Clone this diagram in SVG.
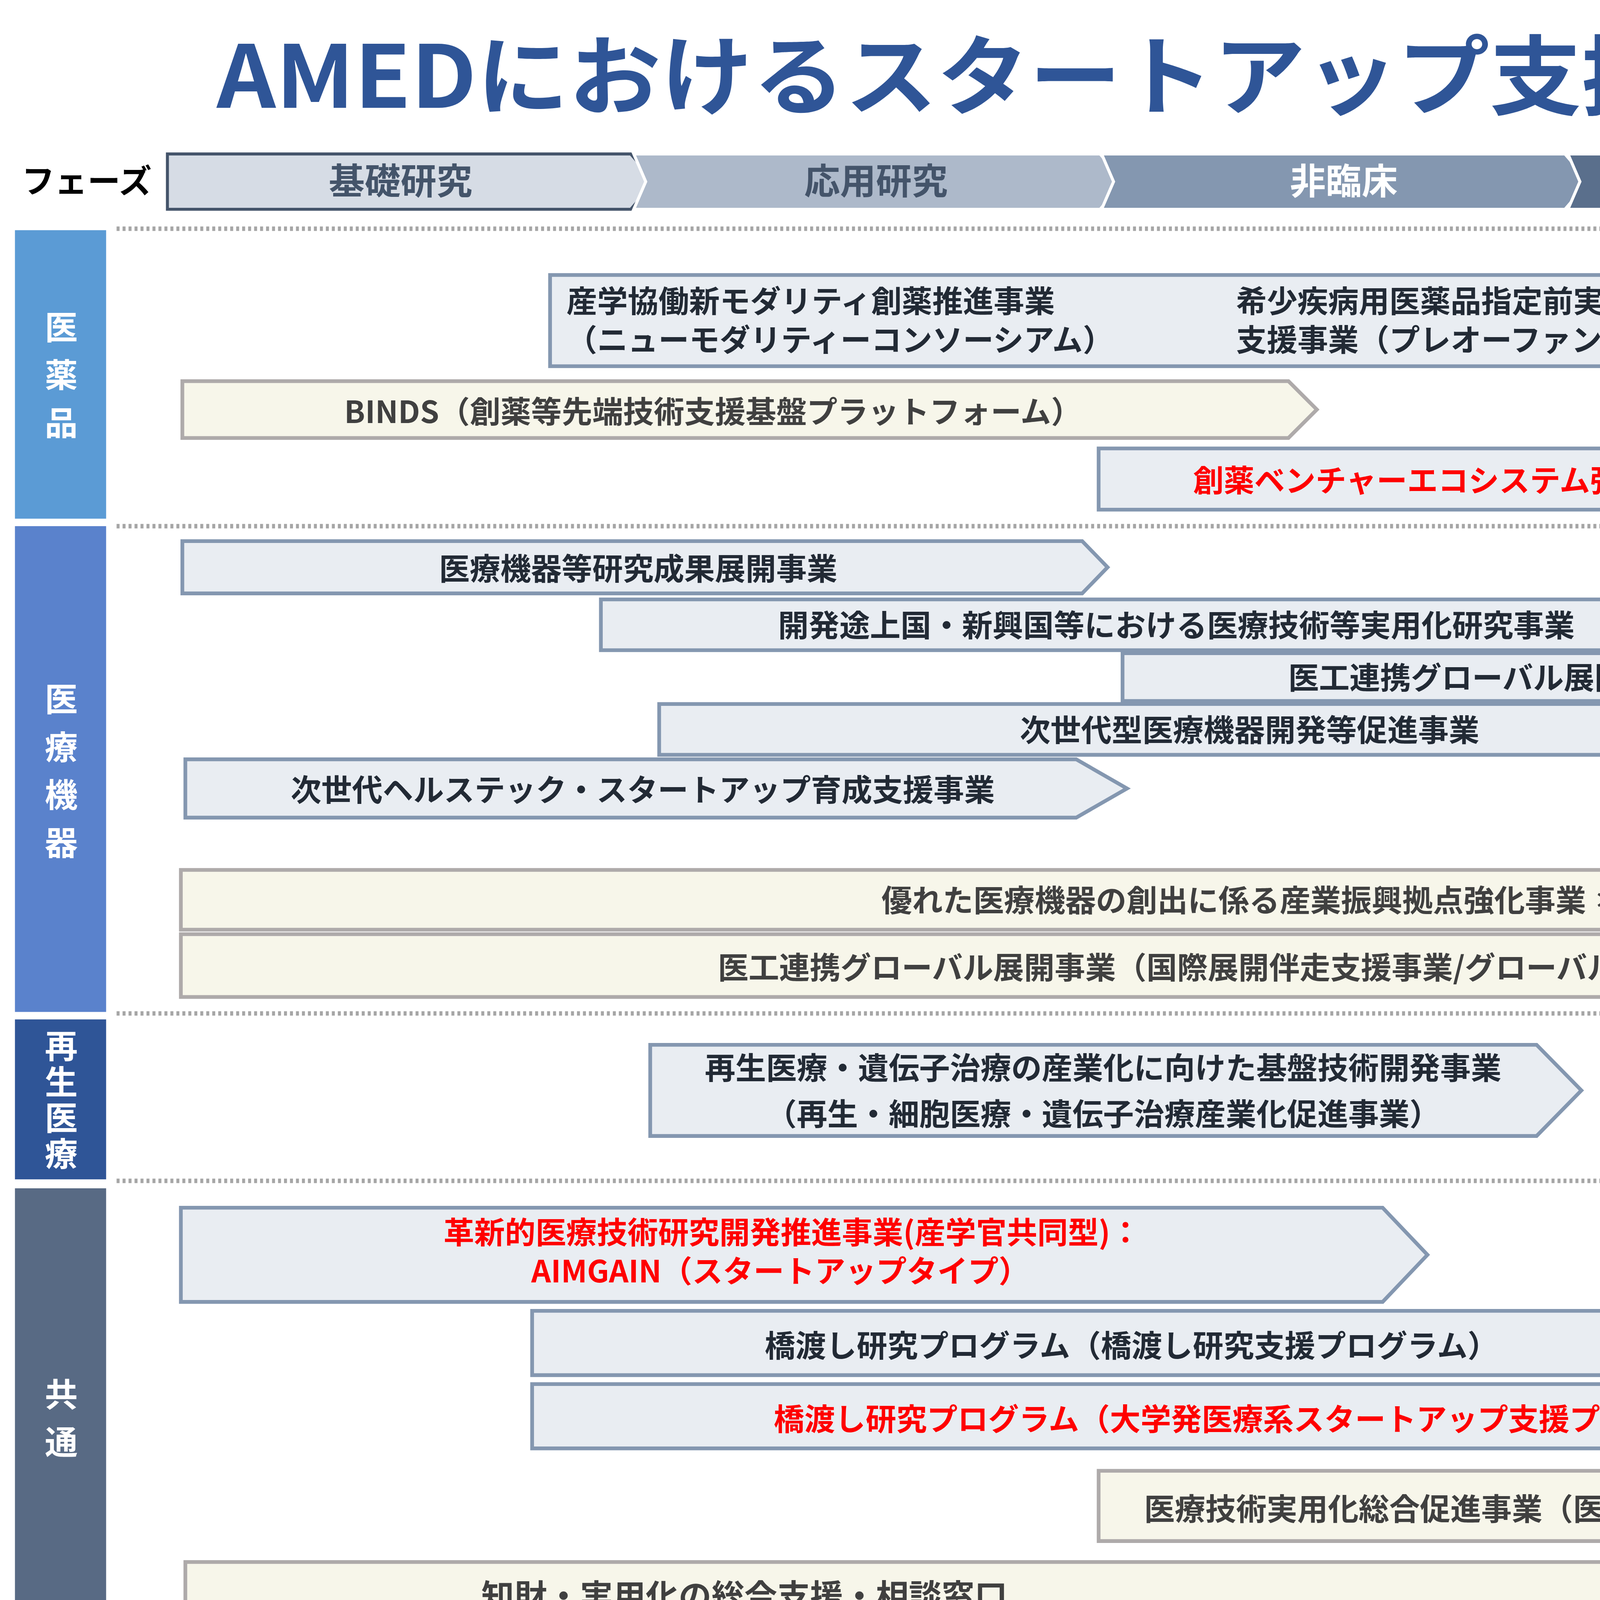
<svg xmlns="http://www.w3.org/2000/svg" width="6000" height="4500" viewBox="0 0 6000 4500">
<style>
text{font-family:"Noto Sans CJK JP","Noto Sans",sans-serif;font-weight:700}
.f{fill:#E9EDF2;stroke:#8497B0;stroke-width:2.5}
.s{fill:#F7F6EA;stroke:#AEAAAA;stroke-width:2.5}
.t{font-size:20.5px;fill:#222A35}
.g{font-size:20.5px;fill:#404040}
.r{font-size:20.5px;fill:#FF0000}
.c{text-anchor:middle}
.cat{font-size:22px;fill:#fff;text-anchor:middle}
.ph{font-size:24px;text-anchor:middle}
.sep{stroke:#A6A6A6;stroke-width:3;stroke-dasharray:2 2}
</style>
<rect width="6000" height="4500" fill="#fff"/>
<g transform="scale(3.8265)">
<g id="title">
<text x="694" y="72" font-size="58" fill="#2F5597" text-anchor="middle" textLength="1098" lengthAdjust="spacingAndGlyphs">AMEDにおけるスタートアップ支援一覧</text>
<text x="1391" y="63" font-size="20" fill="#2F5597" text-anchor="middle" style="font-weight:400">202506版</text>
</g>
<g id="phases">
<text x="58" y="129" font-size="22" fill="#000" text-anchor="middle">フェーズ</text>
<path d="M112,103H422L438,121.5L422,140H112Z" fill="#D6DCE5" stroke="#44546A" stroke-width="2"/>
<path d="M424,103H736L752,121.5L736,140H424L432,121.5Z" fill="#ADB9CA" stroke="#fff" stroke-width="2"/>
<path d="M737,103H1047L1063,121.5L1047,140H737L745,121.5Z" fill="#8497B0" stroke="#fff" stroke-width="2"/>
<path d="M1049,103H1325L1341,121.5L1325,140H1049L1057,121.5Z" fill="#5A6F8C" stroke="#fff" stroke-width="2"/>
<path d="M1325,103H1540L1558,121.5L1540,140H1325L1333,121.5Z" fill="#44546A" stroke="#fff" stroke-width="2"/>
<text x="268" y="130" class="ph" fill="#44546A">基礎研究</text>
<text x="586" y="130" class="ph" fill="#44546A">応用研究</text>
<text x="899" y="130" class="ph" fill="#fff">非臨床</text>
<text x="1194" y="130" class="ph" fill="#fff">臨床研究・治験</text>
<text x="1442" y="130" class="ph" fill="#fff">実用化</text>
</g>
<g id="separators">
<line x1="78" y1="153" x2="1556" y2="153" class="sep"/>
<line x1="78" y1="352" x2="1556" y2="352" class="sep"/>
<line x1="78" y1="678" x2="1556" y2="678" class="sep"/>
<line x1="78" y1="790" x2="1556" y2="790" class="sep"/>
<line x1="78" y1="1103" x2="1556" y2="1103" class="sep"/>
</g>
<g id="categories">
<rect x="10" y="154" width="61" height="193" fill="#5B9BD5"/>
<text class="cat"><tspan x="41" y="227">医</tspan><tspan x="41" y="259">薬</tspan><tspan x="41" y="291">品</tspan></text>
<rect x="10" y="352" width="61" height="325" fill="#5A82CC"/>
<text class="cat"><tspan x="41" y="476">医</tspan><tspan x="41" y="508">療</tspan><tspan x="41" y="540">機</tspan><tspan x="41" y="572">器</tspan></text>
<rect x="10" y="682" width="61" height="107" fill="#2F5597"/>
<text class="cat"><tspan x="41" y="708">再</tspan><tspan x="41" y="732">生</tspan><tspan x="41" y="756">医</tspan><tspan x="41" y="780">療</tspan></text>
<rect x="10" y="795" width="61" height="308" fill="#586A84"/>
<text class="cat"><tspan x="41" y="941">共</tspan><tspan x="41" y="973">通</tspan></text>
</g>
<g id="legend">
<path d="M1264,168H1282L1296,181L1282,194H1264Z" class="f"/>
<text x="1300" y="188" font-size="18" fill="#000" style="font-weight:400">：資金支援</text>
<path d="M1264,201H1282L1296,214L1282,227H1264Z" class="s"/>
<text x="1300" y="220" font-size="18" fill="#000" style="font-weight:400">：ソフト面の支援</text>
<text x="1401" y="263" font-size="17" fill="#FF0000" text-anchor="middle" style="font-weight:400">※赤字はスタートアップに特化したもの</text>
</g>
<g id="n1"><path d="M368,184H1175L1205,214.5L1175,245H368Z" class="f"/>
<text x="379" y="209" class="t">産学協働新モダリティ創薬推進事業</text><text x="379" y="235" class="t">（ニューモダリティーコンソーシアム）</text>
<text x="827" y="209" class="t">希少疾病用医薬品指定前実用化</text><text x="827" y="235" class="t">支援事業（プレオーファン）</text></g>
<g id="n2"><path d="M122,255H862L881,274L862,293H122Z" class="s"/><text x="477" y="283" class="g c">BINDS（創薬等先端技術支援基盤プラットフォーム）</text></g>
<g id="n3"><path d="M735,300H1202L1222,320.5L1202,341H735Z" class="f"/><text x="972" y="329" class="r c">創薬ベンチャーエコシステム強化事業</text></g>
<g id="n4"><path d="M122,362H724L741,379.5L724,397H122Z" class="f"/><text x="427" y="388" class="t c">医療機器等研究成果展開事業</text></g>
<g id="n5"><path d="M402,401H1548L1565,418L1548,435H402Z" class="f"/><text x="787" y="426" class="t c">開発途上国・新興国等における医療技術等実用化研究事業</text></g>
<g id="n6"><path d="M751,437H1548L1565,453L1548,469H751Z" class="f"/><text x="1077" y="461" class="t c">医工連携グローバル展開事業（研究開発事業）</text></g>
<g id="n7"><path d="M441,471H1218L1248,488L1218,505H441Z" class="f"/><text x="836" y="496" class="t c">次世代型医療機器開発等促進事業</text></g>
<g id="n8"><path d="M124,508H720L754,527.5L720,547H124Z" class="f"/><text x="430" y="536" class="t c">次世代ヘルステック・スタートアップ育成支援事業</text></g>
<g id="n9"><path d="M1316,516H1535L1565,545.5L1535,575H1316Z" class="f"/><text x="1332" y="538" class="t">デジタルヘルスケア</text><text x="1332" y="569" font-size="18.5" fill="#222A35">開発・導入促進事業 ＊</text></g>
<g id="n10"><path d="M121,582H1545L1565,602L1545,622H121Z" class="s"/><text x="838" y="610" class="g c">優れた医療機器の創出に係る産業振興拠点強化事業 ＊</text></g>
<g id="n11"><path d="M121,625H1545L1565,646L1545,667H121Z" class="s"/><text x="853" y="655" class="g c">医工連携グローバル展開事業（国際展開伴走支援事業/グローバル進出拠点事業）</text></g>
<g id="n12"><path d="M435,699H1028L1058,729.5L1028,760H435Z" class="f"/><text x="738" y="722" class="t c">再生医療・遺伝子治療の産業化に向けた基盤技術開発事業</text><text x="738" y="753" class="t c">（再生・細胞医療・遺伝子治療産業化促進事業）</text></g>
<g id="n13"><path d="M121,808H925L955,839.5L925,871H121Z" class="f"/><text x="530" y="832" class="r c">革新的医療技術研究開発推進事業(産学官共同型)：</text><text x="522" y="858" class="r c">AIMGAIN（スタートアップタイプ）</text></g>
<g id="n14"><path d="M356,877H1385L1408,898.5L1385,920H356Z" class="f"/><text x="757" y="908" class="t c" fill="#000">橋渡し研究プログラム（橋渡し研究支援プログラム）</text></g>
<g id="n15"><path d="M356,926H1385L1408,947.5L1385,969H356Z" class="f"/><text x="845" y="957" class="r c">橋渡し研究プログラム（大学発医療系スタートアップ支援プログラム）</text></g>
<g id="n16"><path d="M735,984H1462L1486,1007.5L1462,1031H735Z" class="s"/><text x="1093" y="1017" class="g c">医療技術実用化総合促進事業（医療系ベンチャー育成支援プログラム）</text></g>
<g id="n17"><path d="M124,1045H1346L1369,1067L1346,1089H124Z" class="s"/><text x="498" y="1076" font-size="22" fill="#404040" text-anchor="middle">知財・実用化の総合支援・相談窓口</text></g>
<text x="1328" y="1144" font-size="20" fill="#000" text-anchor="middle" style="font-weight:400">＊印：令和6年度補正予算により実施予定</text>
</g>
</svg>
